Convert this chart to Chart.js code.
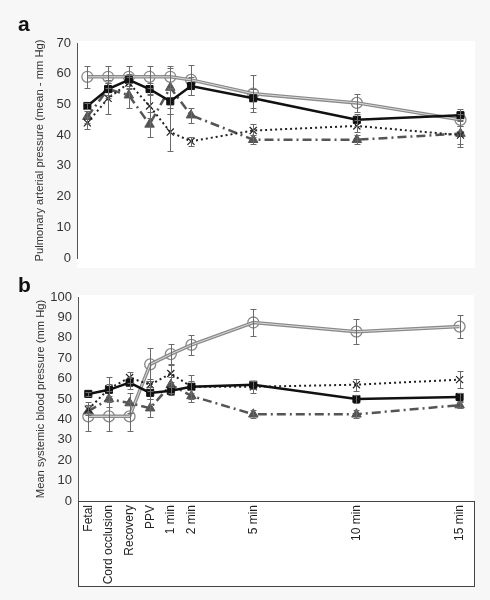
<!DOCTYPE html>
<html>
<head>
<meta charset="utf-8">
<script src="https://cdn.jsdelivr.net/npm/chart.js@4.4.1/dist/chart.umd.min.js"></script>
<style>
body { margin: 0; background: #f7f7f7; }
#wrap { position: relative; width: 490px; height: 600px; }
canvas { position: absolute; left: 0; }
.tag { position: absolute; font: bold 21px "Liberation Sans", Arial, sans-serif; color: #111; }
</style>
</head>
<body>
<div id="wrap">
<canvas id="chartA" width="490" height="275" style="top:0"></canvas>
<canvas id="chartB" width="490" height="320" style="top:280px"></canvas>
<div class="tag" style="left:18px;top:12px">a</div>
<div class="tag" style="left:18px;top:273px">b</div>
</div>
<script>
var stages = ['Fetal', 'Cord occlusion', 'Recovery', 'PPV', '1 min', '2 min', '5 min', '10 min', '15 min'];
// minutes relative to start of ventilation
var minutes = [-3, -2, -1, 0, 1, 2, 5, 10, 15];

// a - pulmonary arterial pressure
var pulmCircle    = [59, 59, 59, 59, 59, 58, 53.5, 50.5, 45];
var pulmCircleErr = [3.5, 3.5, 3.5, 3.5, 3.5, 5, 6, 3, 2];
var pulmSquare    = [49.5, 55, 58, 55, 51, 56, 52, 45, 46.5];
var pulmSquareErr = [1, 2, 2, 2, 4, 3, 3, 2, 2];
var pulmTri       = [46, 55, 53, 43.5, 55.5, 46.5, 38.5, 38.5, 40.5];
var pulmTriErr    = [2, 3, 4, 4, 6.5, 2.5, 1.5, 1.5, 4.5];
var pulmCross     = [44, 52, 57, 49.5, 41, 38, 41.5, 43, 40];
var pulmCrossErr  = [2, 5, 2, 4, 6, 1.5, 2, 2, 3];

// b - mean systemic blood pressure
var sysCircle    = [41.5, 41.5, 41.5, 67, 72, 76.5, 87.5, 83, 85.5];
var sysCircleErr = [7, 7, 7, 8, 5, 5, 6.5, 6, 5.5];
var sysSquare    = [52.5, 54.5, 58, 53, 54, 56, 57, 50, 51];
var sysSquareErr = [1, 3, 3, 3, 2, 3, 2, 2, 2];
var sysTri       = [44, 50, 48, 45.5, 57, 51.5, 42.5, 42.5, 47];
var sysTriErr    = [2, 4, 5, 4.5, 4, 3, 2, 2, 1.5];
var sysCross     = [45, 55, 60.5, 57, 62.5, 56, 56, 57, 59.5];
var sysCrossErr  = [2, 6, 2.5, 3, 4, 6, 3, 3, 4];

Chart.defaults.font.family = '"Liberation Sans", Arial, sans-serif';

function series(values, errors, style){
	var ds = {
		data: values.map(function(v, i){ return {x: minutes[i], y: v}; }),
		err: errors,
		tension: 0,
		fill: false
	};
	for(var k in style) ds[k] = style[k];
	return ds;
}

var errorBars = {
	id: 'errorBars',
	afterDatasetsDraw: function(chart){
		var ctx = chart.ctx, xs = chart.scales.x, ys = chart.scales.y;
		ctx.save();
		ctx.strokeStyle = '#6a6a6a';
		ctx.lineWidth = 1;
		chart.data.datasets.forEach(function(ds){
			if(!ds.err) return;
			ds.data.forEach(function(p, i){
				var x = Math.round(xs.getPixelForValue(p.x)) + 0.5;
				var y1 = Math.round(ys.getPixelForValue(p.y + ds.err[i])) + 0.5;
				var y2 = Math.round(ys.getPixelForValue(p.y - ds.err[i])) + 0.5;
				ctx.beginPath();
				ctx.moveTo(x, y1); ctx.lineTo(x, y2);
				ctx.moveTo(x - 3, y1); ctx.lineTo(x + 3, y1);
				ctx.moveTo(x - 3, y2); ctx.lineTo(x + 3, y2);
				ctx.stroke();
			});
		});
		ctx.restore();
	}
};

var paper = {
	id: 'paper',
	beforeDraw: function(chart, args, opts){
		var a = chart.chartArea, ctx = chart.ctx;
		var bottom = opts.boxed ? chart.scales.x.bottom : a.bottom + 10;
		ctx.save();
		ctx.fillStyle = '#fff';
		ctx.fillRect(a.left, a.top - 2, a.right - a.left, bottom - a.top + 2);
		ctx.restore();
	},
	afterDraw: function(chart, args, opts){
		if(!opts.boxed) return;
		var a = chart.chartArea, xs = chart.scales.x, ctx = chart.ctx;
		ctx.save();
		ctx.strokeStyle = '#444';
		ctx.lineWidth = 1;
		ctx.strokeRect(Math.round(a.left) + 0.5, Math.round(xs.top) + 0.5, Math.round(a.right - a.left), Math.round(xs.bottom - xs.top));
		ctx.restore();
	}
};

function buildDatasets(circle, circleErr, square, squareErr, tri, triErr, cross, crossErr){
	return [
		series(square, squareErr, {
			borderColor: '#111', backgroundColor: '#111', borderWidth: 2.5,
			pointStyle: 'rect', pointRadius: 5, pointBorderWidth: 1
		}),
		series(cross, crossErr, {
			borderColor: '#222', backgroundColor: '#222', borderWidth: 2, borderDash: [2, 3],
			pointStyle: 'crossRot', pointRadius: 5, pointBorderWidth: 1.2
		}),
		series(tri, triErr, {
			borderColor: '#555', backgroundColor: '#555', borderWidth: 2.5, borderDash: [9, 4, 2, 4],
			pointStyle: 'triangle', pointRadius: 5.5, pointBorderWidth: 1
		}),
		series(circle, null, {
			borderColor: '#dadada', borderWidth: 1, pointRadius: 0
		}),
		series(circle, circleErr, {
			borderColor: '#8a8a8a', backgroundColor: 'rgba(255,255,255,0)', borderWidth: 3.5,
			pointStyle: 'circle', pointRadius: 5.5, pointBorderColor: '#888', pointBorderWidth: 1.3
		})
	];
}

function makeChart(id, yMax, yTitle, datasets, showX, padding){
	return new Chart(document.getElementById(id), {
		type: 'line',
		data: { datasets: datasets },
		plugins: [paper, errorBars],
		options: {
			responsive: false,
			animation: false,
			layout: { padding: padding },
			plugins: {
				legend: { display: false },
				tooltip: { enabled: false },
				paper: { boxed: showX }
			},
			scales: {
				x: {
					type: 'linear', min: -3.5, max: 15.7, display: showX,
					grid: { display: false, drawTicks: false },
					border: { display: true, color: '#444' },
					ticks: {
						autoSkip: false, minRotation: 90, maxRotation: 90, padding: 4,
						color: '#222', font: { size: 12 },
						callback: function(v){ return stages[minutes.indexOf(v)]; }
					},
					afterBuildTicks: function(s){ s.ticks = minutes.map(function(m){ return {value: m}; }); },
					afterFit: function(s){ if(showX) s.height = 85; }
				},
				y: {
					min: 0, max: yMax,
					grid: { display: false, drawTicks: false },
					border: { color: '#555' },
					ticks: { stepSize: 10, color: '#333', font: { size: 13 }, padding: 6 },
					title: { display: true, text: yTitle, color: '#333', font: { size: 11.2 }, padding: { top: 3, bottom: 0 } },
					afterFit: function(s){ s.width = 47; }
				}
			}
		}
	});
}

makeChart('chartA', 70, 'Pulmonary arterial pressure (mean - mm Hg)',
	buildDatasets(pulmCircle, pulmCircleErr, pulmSquare, pulmSquareErr, pulmTri, pulmTriErr, pulmCross, pulmCrossErr),
	false, {left: 30, right: 15, top: 43, bottom: 17});

makeChart('chartB', 100, 'Mean systemic blood pressure (mm Hg)',
	buildDatasets(sysCircle, sysCircleErr, sysSquare, sysSquareErr, sysTri, sysTriErr, sysCross, sysCrossErr),
	true, {left: 31, right: 16, top: 17, bottom: 14});
</script>
</body>
</html>
